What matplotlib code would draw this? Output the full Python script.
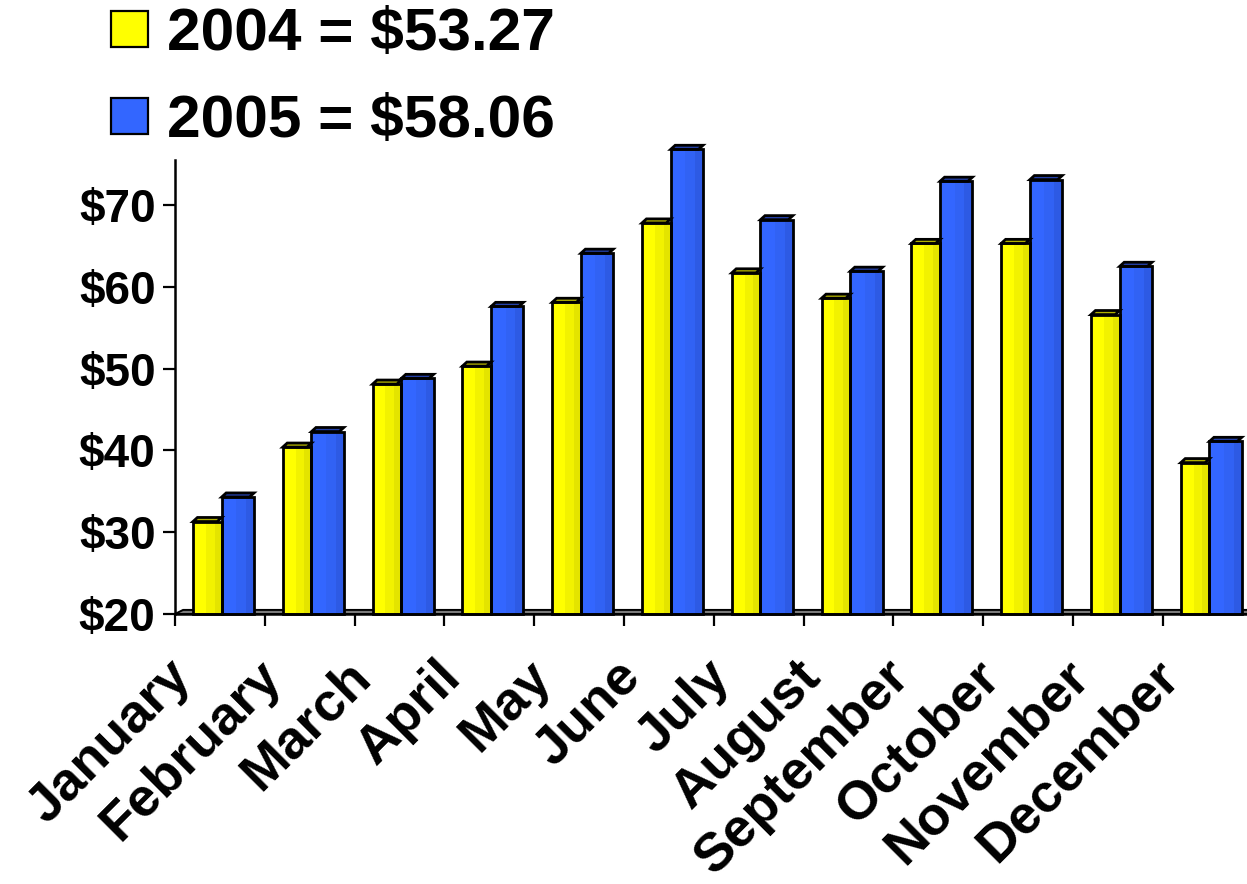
import matplotlib
matplotlib.use("Agg")
import matplotlib.pyplot as plt
from matplotlib.patches import Rectangle, Polygon
import numpy as np

plt.rcParams['font.family'] = ['Liberation Sans', 'DejaVu Sans']
plt.rcParams['font.weight'] = 'bold'

# Data
months = ['January', 'February', 'March', 'April', 'May', 'June', 'July',
          'August', 'September', 'October', 'November', 'December']
vals_2004 = [31.3, 40.4, 48.1, 50.3, 58.1, 67.8, 61.7, 58.6, 65.3, 65.3, 56.6, 38.5]
vals_2005 = [34.3, 42.3, 48.8, 57.6, 64.1, 76.8, 68.2, 61.9, 72.9, 73.1, 62.5, 41.1]
legend_labels = ['2004 = $53.27', '2005 = $58.06']
yticks = [20, 30, 40, 50, 60, 70]
ytick_labels = ['$20', '$30', '$40', '$50', '$60', '$70']

# bar shading: bright / mid / dark strip, plus top cap colour
yellow = ['#FFFF00', '#F2F200', '#E4E400', '#B0B000']
blue = ['#3366FF', '#3162F4', '#2D5AE4', '#2440A8']

W, H = 1247, 884
fig = plt.figure(figsize=(W / 100, H / 100), dpi=100)
ax = fig.add_axes([175 / W, (H - 614) / H, 12 * 89.8 / W, (614 - 160) / H])
ax.set_xlim(0, 12)
ax.set_ylim(20, 75.5)

# 3D-ish floor strip
floor = Polygon([(0, 20), (0.09, 20.5), (12.09, 20.5), (12, 20)],
                closed=True, facecolor='#7a7a7a', edgecolor='black', lw=1.4,
                clip_on=False, zorder=1)
ax.add_patch(floor)


def draw_bar(x0, x1, h, cols):
    w = x1 - x0
    splits = [0, 0.45, 0.75, 1.0]
    for k in range(3):
        ax.add_patch(Rectangle((x0 + splits[k] * w, 20), (splits[k + 1] - splits[k]) * w, h - 20,
                               facecolor=cols[k], edgecolor='none', clip_on=False, zorder=2))
    ax.add_patch(Rectangle((x0, 20), w, h - 20, facecolor='none', edgecolor='black',
                           lw=2.0, clip_on=False, zorder=3))
    cap = Polygon([(x0, h), (x0 + 0.05, h + 0.5), (x1, h + 0.5), (x1 - 0.05, h)], closed=True,
                  facecolor=cols[3], edgecolor='black', lw=2.0, clip_on=False, zorder=3)
    ax.add_patch(cap)


for i in range(len(months)):
    draw_bar(i + 0.20, i + 0.52, vals_2004[i], yellow)
    draw_bar(i + 0.52, i + 0.88, vals_2005[i], blue)

# axes styling
for s in ['top', 'right']:
    ax.spines[s].set_visible(False)
ax.spines['left'].set_linewidth(1.8)
ax.spines['bottom'].set_linewidth(1.8)
ax.spines['bottom'].set_zorder(4)

ax.set_yticks(yticks)
ax.set_yticklabels(ytick_labels, fontsize=33, fontweight='bold')
ax.tick_params(axis='y', direction='out', length=8.5, width=1.6, pad=5.5)
ax.set_xticks(np.arange(12))
ax.set_xticklabels([])
ax.tick_params(axis='x', direction='out', length=8.5, width=1.6)

for i, m in enumerate(months):
    ax.annotate(m, xy=(i, 0), xycoords=('data', 'axes fraction'),
                xytext=(-9, -37), textcoords='offset pixels',
                rotation=45, rotation_mode='anchor', ha='right', va='top',
                fontsize=39, fontweight='bold', annotation_clip=False)

# legend drawn by hand at the top
leg_cols = [yellow[0], blue[0]]
leg_base = [50, 137]
for col, lab, yb in zip(leg_cols, legend_labels, leg_base):
    fig.patches.append(Rectangle((111 / W, (H - yb + 3) / H), 37 / W, 36 / H,
                                 transform=fig.transFigure, facecolor=col,
                                 edgecolor='black', lw=1.6))
    fig.text(167 / W, (H - yb) / H, lab, fontsize=43.5, fontweight='bold',
             ha='left', va='baseline')

fig.savefig('out.png', dpi=100)
